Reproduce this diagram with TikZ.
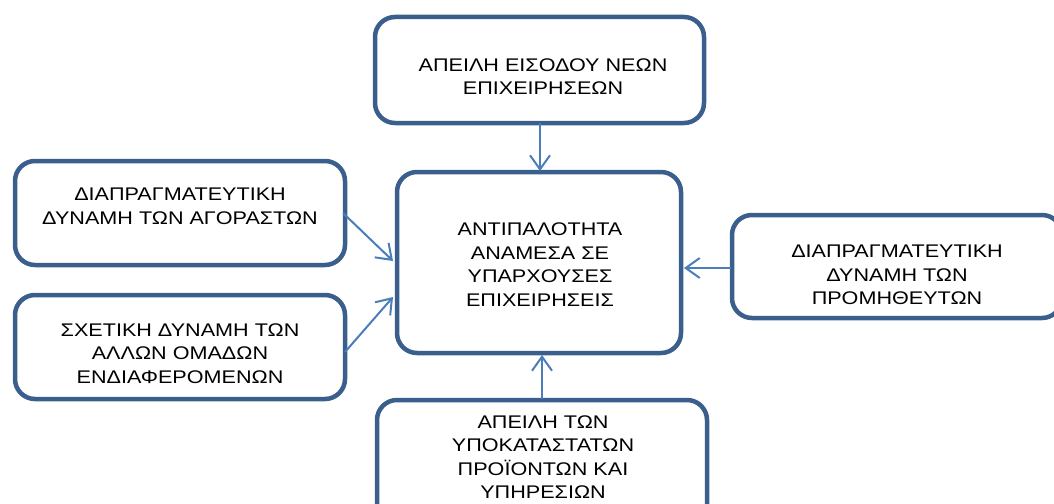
\documentclass[tikz,border=0pt]{standalone}
\usepackage{fontspec}
\setmainfont{Liberation Sans}[FakeStretch=1.18]
\usetikzlibrary{arrows.meta}
\definecolor{boxblue}{HTML}{3A5F8D}
\definecolor{arrblue}{HTML}{4A7EBB}
\begin{document}
\begin{tikzpicture}[x=1pt,y=-1pt,
  box/.style={draw=boxblue,line width=4.5pt,rounded corners=20pt,fill=white,inner sep=0pt},
  lbl/.style={align=center,inner sep=0pt,font=\fontsize{18.3}{23.5}\selectfont},
  conn/.style={draw=arrblue,line width=2pt,-{Straight Barb[length=14pt,width=20pt,line width=2pt]}}
]
\useasboundingbox (0,0) rectangle (1054,503);
% boxes (center, width, height)
\node[box,minimum width=329pt,minimum height=106pt] (top) at (539.5,70) {};
\node[box,minimum width=330pt,minimum height=104pt] (lt) at (180,213) {};
\node[box,minimum width=330pt,minimum height=104pt] (lb) at (180,347) {};
\node[box,minimum width=284pt,minimum height=181pt] (mid) at (539,262.5) {};
\node[box,minimum width=330pt,minimum height=103pt] (rt) at (897,266.5) {};
\node[box,minimum width=330pt,minimum height=140pt] (bot) at (542,470) {};
% texts
\node[lbl] (ttop) at (543,76.5) {ΑΠΕΙΛΗ ΕΙΣΟΔΟΥ ΝΕΩΝ\\ΕΠΙΧΕΙΡΗΣΕΩΝ};
\node[lbl] (tlt) at (180,206.5) {ΔΙΑΠΡΑΓΜΑΤΕΥΤΙΚΗ\\ΔΥΝΑΜΗ ΤΩΝ ΑΓΟΡΑΣΤΩΝ};
\node[lbl] (tlb) at (180,353.5) {ΣΧΕΤΙΚΗ ΔΥΝΑΜΗ ΤΩΝ\\ΑΛΛΩΝ ΟΜΑΔΩΝ\\ΕΝΔΙΑΦΕΡΟΜΕΝΩΝ};
\node[lbl] (tmid) at (540,264.5) {ΑΝΤΙΠΑΛΟΤΗΤΑ\\ΑΝΑΜΕΣΑ ΣΕ\\ΥΠΑΡΧΟΥΣΕΣ\\ΕΠΙΧΕΙΡΗΣΕΙΣ};
\node[lbl] (trt) at (897,275) {ΔΙΑΠΡΑΓΜΑΤΕΥΤΙΚΗ\\ΔΥΝΑΜΗ ΤΩΝ\\ΠΡΟΜΗΘΕΥΤΩΝ};
\node[lbl] (tbot) at (543,457) {ΑΠΕΙΛΗ ΤΩΝ\\ΥΠΟΚΑΤΑΣΤΑΤΩΝ\\ΠΡΟΪΟΝΤΩΝ ΚΑΙ\\ΥΠΗΡΕΣΙΩΝ};
% connector end points
\coordinate (a1s) at (540,123);
\coordinate (a1e) at (540,171);
\coordinate (a2s) at (343,213);
\coordinate (a2e) at (393,261);
\coordinate (a3s) at (345,352);
\coordinate (a3e) at (393,297);
\coordinate (a4s) at (731,268);
\coordinate (a4e) at (684,268);
\coordinate (a5s) at (542,399);
\coordinate (a5e) at (542,355);
\path[conn] (a1s) -- (a1e);
\path[conn] (a2s) -- (a2e);
\path[conn] (a3s) -- (a3e);
\path[conn] (a4s) -- (a4e);
\path[conn] (a5s) -- (a5e);
\end{tikzpicture}
\end{document}
